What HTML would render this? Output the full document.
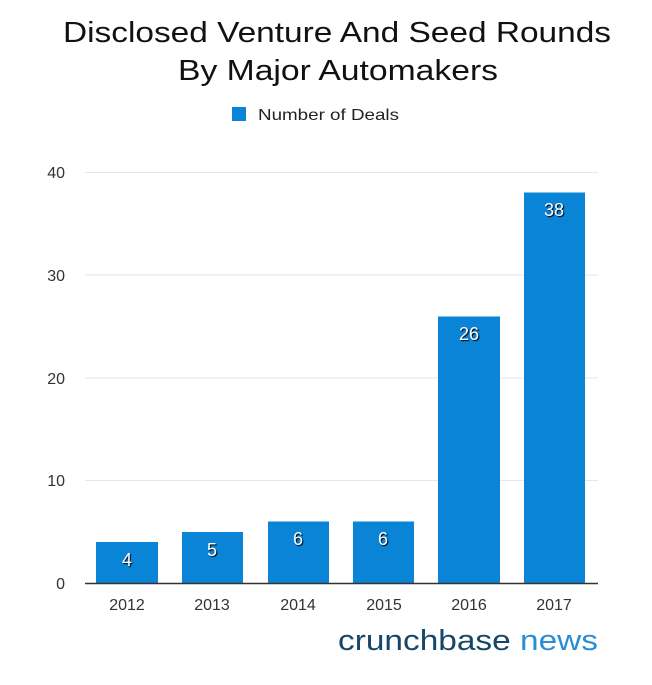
<!DOCTYPE html>
<html><head><meta charset="utf-8"><style>
html,body{margin:0;padding:0;background:#fff;}
</style></head><body>
<svg width="652" height="680" xmlns="http://www.w3.org/2000/svg" font-family="Liberation Sans, sans-serif">
<rect width="652" height="680" fill="#fff"/>
<text x="63" y="42" font-size="29" fill="#111" textLength="548" lengthAdjust="spacingAndGlyphs">Disclosed Venture And Seed Rounds</text>
<text x="178" y="80" font-size="29" fill="#111" textLength="320" lengthAdjust="spacingAndGlyphs">By Major Automakers</text>
<rect x="232" y="107" width="14" height="14" fill="#0a84d6"/>
<text x="258" y="120" font-size="16" fill="#222" textLength="141" lengthAdjust="spacingAndGlyphs">Number of Deals</text>
<g stroke="#e6e6e6" stroke-width="1">
<line x1="85" y1="172.5" x2="598" y2="172.5"/>
<line x1="85" y1="275" x2="598" y2="275"/>
<line x1="85" y1="378" x2="598" y2="378"/>
<line x1="85" y1="480.5" x2="598" y2="480.5"/>
</g>
<g font-size="16" fill="#333" text-anchor="end">
<text x="65" y="178">40</text>
<text x="65" y="281">30</text>
<text x="65" y="384">20</text>
<text x="65" y="486">10</text>
<text x="65" y="589">0</text>
</g>
<g fill="#0a84d6">
<rect x="96" y="542" width="62" height="41"/>
<rect x="182" y="532" width="61" height="51"/>
<rect x="268" y="521.5" width="61" height="61.5"/>
<rect x="353" y="521.5" width="61" height="61.5"/>
<rect x="438" y="316.5" width="62" height="266.5"/>
<rect x="524" y="192.5" width="61" height="390.5"/>
</g>
<line x1="85" y1="583.5" x2="598" y2="583.5" stroke="#333" stroke-width="1.5"/>
<g font-size="18" fill="#fff" text-anchor="middle" style="text-shadow:1px 1px 1px #000">
<text x="127" y="566">4</text>
<text x="212" y="556">5</text>
<text x="298" y="545">6</text>
<text x="383" y="545">6</text>
<text x="469" y="340">26</text>
<text x="554" y="216">38</text>
</g>
<g font-size="16" fill="#333" text-anchor="middle">
<text x="127" y="610">2012</text>
<text x="212" y="610">2013</text>
<text x="298" y="610">2014</text>
<text x="384" y="610">2015</text>
<text x="469" y="610">2016</text>
<text x="554" y="610">2017</text>
</g>
<text x="338" y="650" font-size="29" fill="#14476b" textLength="260" lengthAdjust="spacingAndGlyphs">crunchbase <tspan fill="#2a8ed6">news</tspan></text>
</svg>
</body></html>
